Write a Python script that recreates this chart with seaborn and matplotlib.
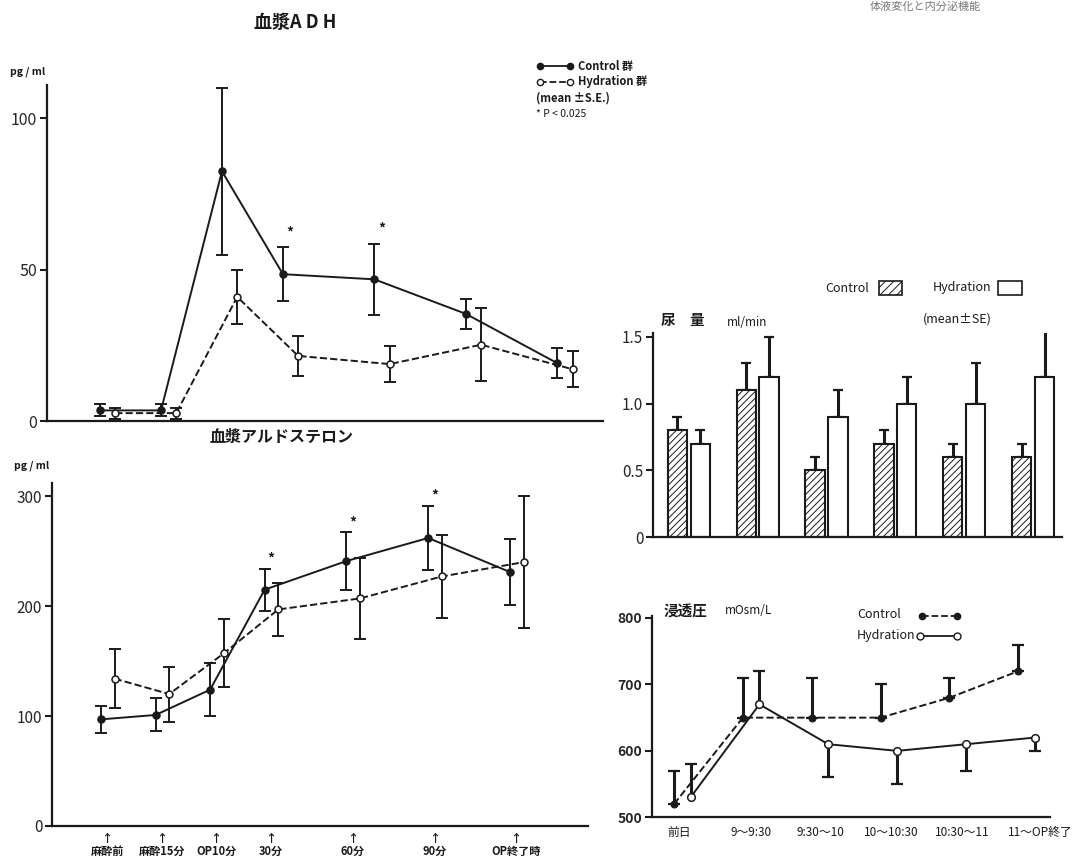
import matplotlib
matplotlib.use("Agg")
import matplotlib.pyplot as plt
import seaborn as sns
import numpy as np
import pandas as pd
from matplotlib.lines import Line2D
from matplotlib.patches import Rectangle

sns.set_theme(style="white")
plt.rcParams['font.family'] = ['Noto Sans CJK JP', 'DejaVu Sans']
plt.rcParams['hatch.linewidth'] = 0.7
plt.rcParams['axes.unicode_minus'] = False

# ---------------- data ----------------
time_labels = ["麻酔前", "麻酔15分", "OP10分", "30分", "60分", "90分", "OP終了時"]
time_pos = [0, 1, 2, 3, 4.5, 6, 7.5]

adh_ctrl = [3.5, 3.5, 82.5, 48.5, 46.8, 35.4, 19.1]
adh_ctrl_se = [2.0, 2.0, 27.5, 9.0, 11.8, 5.0, 5.0]
adh_hyd = [2.6, 2.6, 41.0, 21.5, 18.8, 25.2, 17.1]
adh_hyd_se = [1.8, 1.8, 9.0, 6.5, 6.0, 12.0, 6.0]
adh_sig = [3, 4]  # indices with *

ald_ctrl = [97, 101, 124, 215, 241, 262, 231]
ald_ctrl_se = [12, 15, 24, 19, 26, 29, 30]
ald_hyd = [134, 120, 157, 197, 207, 227, 240]
ald_hyd_se = [27, 25, 31, 24, 37, 38, 60]
ald_sig = [3, 4, 5]

periods = ["前日", "9〜9:30", "9:30〜10", "10〜10:30", "10:30〜11", "11〜OP終了"]
urine_ctrl = [0.8, 1.1, 0.5, 0.7, 0.6, 0.6]
urine_ctrl_se = [0.1, 0.2, 0.1, 0.1, 0.1, 0.1]
urine_hyd = [0.7, 1.2, 0.9, 1.0, 1.0, 1.2]
urine_hyd_se = [0.1, 0.3, 0.2, 0.2, 0.3, 0.4]

osm_ctrl = [520, 650, 650, 650, 680, 720]
osm_ctrl_se = [50, 60, 60, 50, 30, 40]
osm_hyd = [530, 670, 610, 600, 610, 620]
osm_hyd_se = [50, 50, 50, 50, 40, 20]
osm_hyd_dir = [1, 1, -1, -1, -1, -1]   # +1 bar drawn upward, -1 downward

# ---------------- layout helpers ----------------
W, H = 1081, 859
fig = plt.figure(figsize=(W / 100, H / 100), dpi=100)

def px_axes(l, t, r, b):
    return fig.add_axes([l / W, 1 - b / H, (r - l) / W, (b - t) / H])

def ftext(x, y, s, **kw):
    return fig.text(x / W, 1 - y / H, s, **kw)

def style_axes(ax, ytick_fs=11, ybold=False):
    for s in ["top", "right"]:
        ax.spines[s].set_visible(False)
    for s in ["left", "bottom"]:
        ax.spines[s].set_color("#1a1a1a")
        ax.spines[s].set_linewidth(1.6)
    ax.tick_params(axis="y", direction="out", length=5, width=1.5, color="#1a1a1a",
                   labelsize=ytick_fs, pad=2, left=True)
    ax.tick_params(axis="x", length=0)
    ax.set_facecolor("none")
    ax.grid(False)
    ax.set_xlabel("")
    ax.set_ylabel("")
    if ybold:
        for lab in ax.get_yticklabels():
            lab.set_fontweight("bold")

K = "#1a1a1a"
OFF = 0.25

def time_series(ax, x, y, se, filled, dashed, lw=1.4):
    sns.lineplot(x=x, y=y, ax=ax, color=K, lw=lw, linestyle="--" if dashed else "-",
                 marker="o", ms=5, mfc=K if filled else "white", mec=K, mew=1.1,
                 sort=False, errorbar=None, zorder=3)
    ax.errorbar(x, y, yerr=se, fmt="none", ecolor=K, elinewidth=1.4, capsize=4.5,
                capthick=1.4, zorder=2)

# ---------------- 血漿ADH ----------------
ax1 = px_axes(47, 85, 603, 421)
xc = np.array(time_pos)
time_series(ax1, xc, adh_ctrl, adh_ctrl_se, True, False)
time_series(ax1, xc + OFF, adh_hyd, adh_hyd_se, False, True)
for i in adh_sig:
    ax1.text(xc[i] + 0.12, adh_ctrl[i] + adh_ctrl_se[i] + 2.5, "*", ha="center",
             va="bottom", fontsize=10, fontweight="bold", color=K)
ax1.set_xlim(-0.87, 8.25)
ax1.set_ylim(0, 111)
ax1.set_yticks([0, 50, 100])
ax1.set_xticks([])
style_axes(ax1, ytick_fs=11.5)

ftext(295, 22, "血漿A D H", ha="center", va="center", fontsize=13, fontweight="bold", color=K)
ftext(10, 72, "pg / ml", ha="left", va="center", fontsize=7.5, fontweight="bold", color=K)

# legend top-left
def fig_legend_line(x1, x2, y, filled, dashed, lw=1.3, ms=4.5):
    fig.add_artist(Line2D([x1 / W, x2 / W], [1 - y / H, 1 - y / H], transform=fig.transFigure,
                          color=K, lw=lw, linestyle="--" if dashed else "-", marker="o", ms=ms,
                          mfc=K if filled else "white", mec=K, mew=1.0))

fig_legend_line(540, 570, 66, True, False)
fig_legend_line(540, 570, 82, False, True)
ftext(578, 66, "Control 群", ha="left", va="center", fontsize=8, fontweight="bold", color=K)
ftext(578, 82, "Hydration 群", ha="left", va="center", fontsize=8, fontweight="bold", color=K)
ftext(536, 98, "(mean ±S.E.)", ha="left", va="center", fontsize=8, fontweight="bold", color=K)
ftext(536, 114, "* P < 0.025", ha="left", va="center", fontsize=7.5, color=K)

# ---------------- 血漿アルドステロン ----------------
ax2 = px_axes(52, 483, 588, 826)
time_series(ax2, xc, ald_ctrl, ald_ctrl_se, True, False)
time_series(ax2, xc + OFF, ald_hyd, ald_hyd_se, False, True)
for i in ald_sig:
    ax2.text(xc[i] + 0.12, ald_ctrl[i] + ald_ctrl_se[i] + 3, "*", ha="center",
             va="bottom", fontsize=10, fontweight="bold", color=K)
ax2.set_xlim(-0.9, 8.93)
ax2.set_ylim(0, 312)
ax2.set_yticks([0, 100, 200, 300])
ax2.set_xticks(xc + 0.11)
ax2.set_xticklabels(["↑\n" + t for t in time_labels], fontsize=8, linespacing=1.0)
style_axes(ax2, ytick_fs=11)
ax2.tick_params(axis="x", pad=4, labelcolor=K)
for lab in ax2.get_xticklabels():
    lab.set_fontweight("bold")

ftext(282, 437, "血漿アルドステロン", ha="center", va="center", fontsize=11.5, fontweight="bold", color=K)
ftext(14, 466, "pg / ml", ha="left", va="center", fontsize=7.5, fontweight="bold", color=K)

# ---------------- 尿量 (bars) ----------------
ax3 = px_axes(653, 332.7, 1062, 537.3)
bar_df = pd.DataFrame({
    "period": periods * 2,
    "group": ["Control"] * 6 + ["Hydration"] * 6,
    "value": urine_ctrl + urine_hyd,
})
sns.barplot(data=bar_df, x="period", y="value", hue="group", order=periods,
            hue_order=["Control", "Hydration"], palette=["white", "white"],
            width=0.667, gap=0.16, edgecolor=K, linewidth=1.5, errorbar=None,
            legend=False, ax=ax3, zorder=2)
bars = ax3.patches
for p in bars[:6]:
    p.set_hatch("/////")
for p, v, e in zip(bars[:6], urine_ctrl, urine_ctrl_se):
    cx = p.get_x() + p.get_width() / 2
    ax3.errorbar([cx], [v], yerr=[[0], [e]], fmt="none", ecolor=K, elinewidth=2.2,
                 capsize=3.5, capthick=1.6, zorder=1)
for p, v, e in zip(bars[6:12], urine_hyd, urine_hyd_se):
    cx = p.get_x() + p.get_width() / 2
    ax3.errorbar([cx], [v], yerr=[[0], [e]], fmt="none", ecolor=K, elinewidth=2.2,
                 capsize=3.5, capthick=1.6, zorder=1)
ax3.set_xlim(-0.52, 5.42)
ax3.set_ylim(0, 1.53)
ax3.set_yticks([0, 0.5, 1.0, 1.5])
ax3.set_yticklabels(["0", "0.5", "1.0", "1.5"])
ax3.set_xticks([])
style_axes(ax3, ytick_fs=11)

ftext(668, 320, "尿", ha="center", va="center", fontsize=10.5, fontweight="bold", color=K)
ftext(697, 320, "量", ha="center", va="center", fontsize=10.5, fontweight="bold", color=K)
ftext(727, 322, "ml/min", ha="left", va="center", fontsize=8.5, color=K)
ftext(825, 288, "Control", ha="left", va="center", fontsize=9, color=K)
fig.add_artist(Rectangle((879 / W, 1 - 295 / H), 23 / W, 14 / H, transform=fig.transFigure,
                         fill=False, hatch="////", edgecolor=K, lw=1.2))
ftext(933, 288, "Hydration", ha="left", va="center", fontsize=9, color=K)
fig.add_artist(Rectangle((998 / W, 1 - 295 / H), 24 / W, 14 / H, transform=fig.transFigure,
                         fill=False, edgecolor=K, lw=1.2))
ftext(923, 319, "(mean±SE)", ha="left", va="center", fontsize=9, color=K)

# ---------------- 浸透圧 ----------------
ax4 = px_axes(652, 616, 1050, 817.3)
xo = np.arange(len(periods), dtype=float)
OO = 0.12
sns.lineplot(x=xo - OO, y=osm_ctrl, ax=ax4, color=K, lw=1.4, linestyle="--", marker="o",
             ms=5, mfc=K, mec=K, sort=False, errorbar=None, zorder=3)
sns.lineplot(x=xo + OO, y=osm_hyd, ax=ax4, color=K, lw=1.4, linestyle="-", marker="o",
             ms=5.5, mfc="white", mec=K, mew=1.1, sort=False, errorbar=None, zorder=3)
ax4.errorbar(xo - OO, osm_ctrl, yerr=[np.zeros(6), osm_ctrl_se], fmt="none", ecolor=K,
             elinewidth=2.2, capsize=4, capthick=1.6, zorder=2)
hyd_lo = [e if d < 0 else 0 for e, d in zip(osm_hyd_se, osm_hyd_dir)]
hyd_hi = [e if d > 0 else 0 for e, d in zip(osm_hyd_se, osm_hyd_dir)]
ax4.errorbar(xo + OO, osm_hyd, yerr=[hyd_lo, hyd_hi], fmt="none", ecolor=K,
             elinewidth=2.2, capsize=0, zorder=2)
# caps only at the drawn end
cap_y = [v + e * d for v, e, d in zip(osm_hyd, osm_hyd_se, osm_hyd_dir)]
ax4.plot(xo + OO, cap_y, linestyle="none", marker="_", ms=8, mew=1.6, color=K, zorder=2)
ax4.set_xlim(-0.44, 5.34)
ax4.set_ylim(500, 803)
ax4.set_yticks([500, 600, 700, 800])
ax4.set_xticks(xo + np.array([-0.05, 0.0, 0.0, 0.04, 0.07, 0.2]))
ax4.set_xticklabels(periods, fontsize=8.5)
style_axes(ax4, ytick_fs=10, ybold=True)
ax4.tick_params(axis="x", pad=6, labelcolor=K)

ftext(686, 612, "浸透圧", ha="center", va="center", fontsize=10.5, fontweight="bold", color=K)
ftext(725, 610, "mOsm/L", ha="left", va="center", fontsize=8.5, color=K)
ftext(857, 615, "Control", ha="left", va="center", fontsize=9, color=K)
fig_legend_line(922, 957, 616, True, True, ms=4.5)
ftext(857, 636, "Hydration", ha="left", va="center", fontsize=9, color=K)
fig_legend_line(920, 957, 636, False, False, ms=5)

# running header at the top edge
ftext(925, 2, "体液変化と内分泌機能", ha="center", va="top", fontsize=8, color="#777777")

fig.savefig("out.png", dpi=100)
